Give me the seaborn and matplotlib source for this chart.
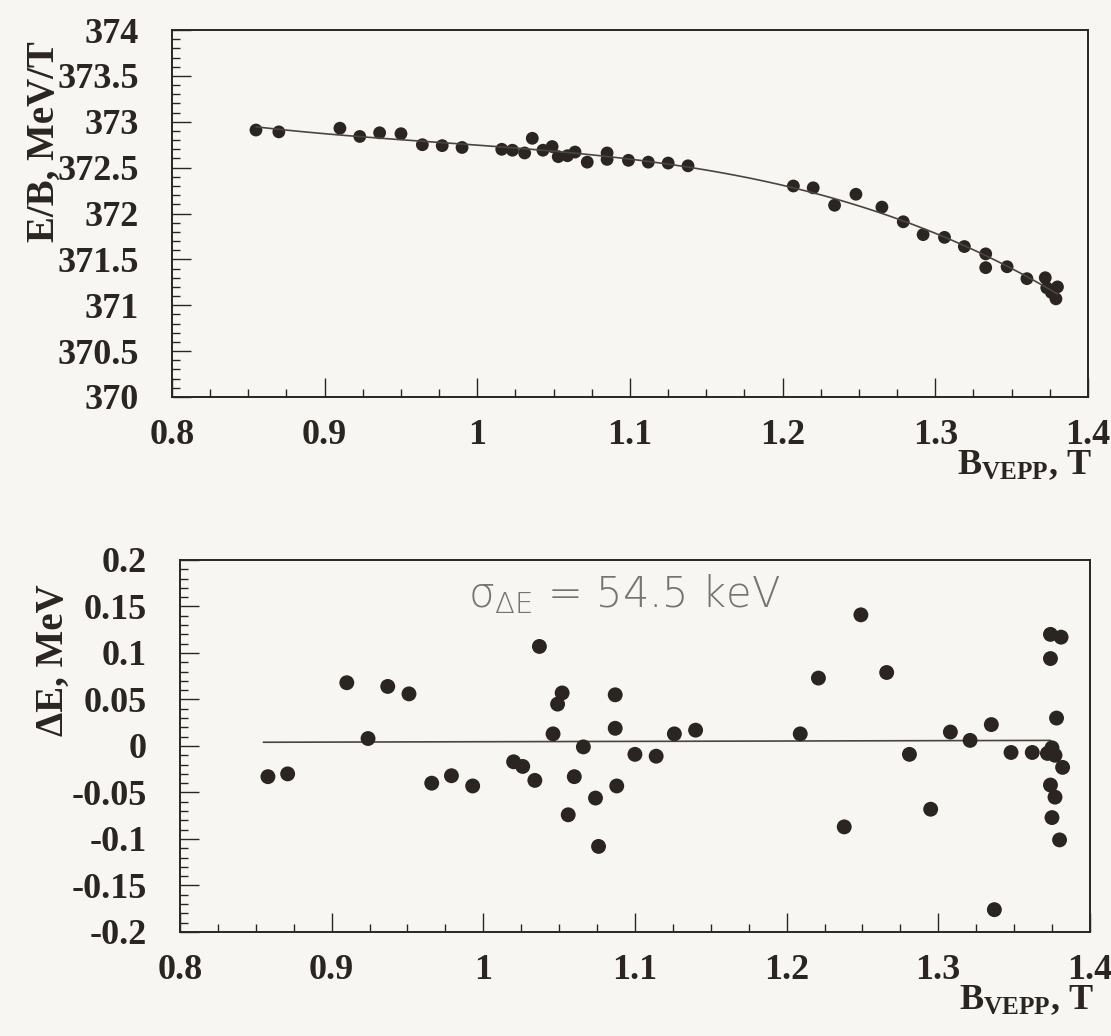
import matplotlib
matplotlib.use("Agg")
import matplotlib.pyplot as plt
from matplotlib.ticker import MultipleLocator, FuncFormatter
import pandas as pd
import seaborn as sns

# top panel: E/B versus B_VEPP
B_TOP = [0.855, 0.870, 0.910, 0.923, 0.936, 0.950, 0.964, 0.977, 0.990,
         1.016, 1.023, 1.031, 1.036, 1.043, 1.049, 1.053, 1.059, 1.064,
         1.072, 1.085, 1.085, 1.099, 1.112, 1.125, 1.138, 1.207, 1.220,
         1.234, 1.248, 1.265, 1.279, 1.292, 1.306, 1.319, 1.333, 1.333,
         1.347, 1.360, 1.372, 1.373, 1.376, 1.380, 1.379]
EB_TOP = [372.91, 372.89, 372.93, 372.84, 372.88, 372.87, 372.75, 372.74, 372.72,
          372.70, 372.69, 372.66, 372.82, 372.69, 372.73, 372.62, 372.63, 372.67,
          372.56, 372.66, 372.59, 372.58, 372.56, 372.55, 372.52, 372.30, 372.28,
          372.09, 372.21, 372.07, 371.91, 371.77, 371.74, 371.64, 371.56, 371.41,
          371.42, 371.29, 371.30, 371.19, 371.14, 371.20, 371.07]

# bottom panel: residuals dE versus B_VEPP
B_RES = [0.858, 0.871, 0.910, 0.924, 0.937, 0.951, 0.966, 0.979, 0.993,
         1.020, 1.026, 1.034, 1.037, 1.046, 1.049, 1.052, 1.056, 1.060,
         1.066, 1.074, 1.076, 1.087, 1.087, 1.088, 1.100, 1.114, 1.126,
         1.140, 1.209, 1.221, 1.238, 1.249, 1.266, 1.281, 1.295, 1.308,
         1.321, 1.335, 1.337, 1.348, 1.362, 1.372, 1.375, 1.374, 1.381,
         1.374, 1.378, 1.377, 1.382, 1.374, 1.377, 1.375, 1.380]
DE_RES = [-0.033, -0.030, 0.068, 0.008, 0.064, 0.056, -0.040, -0.032, -0.043,
          -0.017, -0.022, -0.037, 0.107, 0.013, 0.045, 0.057, -0.074, -0.033,
          -0.001, -0.056, -0.108, 0.055, 0.019, -0.043, -0.009, -0.011, 0.013,
          0.017, 0.013, 0.073, -0.087, 0.141, 0.079, -0.009, -0.068, 0.015,
          0.006, 0.023, -0.176, -0.007, -0.007, -0.008, -0.002, 0.120, 0.117,
          0.094, 0.030, -0.010, -0.023, -0.042, -0.055, -0.077, -0.101]

# flat fit through the residuals (end points)
FIT_B = [0.855, 1.374]
FIT_DE = [0.004, 0.006]

SIGMA_TEXT = r"$\sigma_{\Delta E}$ = 54.5 keV"

PAPER = "#f8f6f2"
INK = "#2a2521"


def fmt(v, pos):
    if abs(v) < 1e-9:
        return "0"
    return f"{v:g}"


def style_axes(ax):
    ax.set_facecolor(PAPER)
    for sp in ax.spines.values():
        sp.set_visible(True)
        sp.set_linewidth(1.4)
        sp.set_color(INK)
    ax.tick_params(which="both", direction="in", top=False, right=False,
                   color=INK, labelcolor=INK, labelsize=26, width=1.0)
    ax.tick_params(which="major", length=14)
    ax.tick_params(which="minor", length=6)
    ax.tick_params(axis="y", which="both", pad=24)
    ax.tick_params(axis="x", which="both", pad=16)
    ax.xaxis.set_major_locator(MultipleLocator(0.1))
    ax.xaxis.set_minor_locator(MultipleLocator(0.025))
    ax.xaxis.set_major_formatter(FuncFormatter(fmt))
    ax.yaxis.set_major_formatter(FuncFormatter(fmt))
    ax.set_xlim(0.8, 1.4)
    for lab in ax.get_xticklabels() + ax.get_yticklabels():
        lab.set_fontweight("bold")


def main():
    sns.set_theme(style="ticks")
    plt.rcParams["font.family"] = ["Liberation Serif", "DejaVu Serif"]
    plt.rcParams["font.weight"] = "bold"
    plt.rcParams["mathtext.default"] = "regular"

    fig = plt.figure(figsize=(11.11, 10.36), dpi=100, facecolor=PAPER)
    ax1 = fig.add_axes([0.1548, 0.6168, 0.8245, 0.3542])
    ax2 = fig.add_axes([0.1620, 0.1004, 0.8190, 0.3591])

    # top: data with a cubic fit drawn by seaborn
    top = pd.DataFrame({"B": B_TOP, "EB": EB_TOP})
    sns.regplot(data=top, x="B", y="EB", order=3, ci=None, truncate=True,
                color=INK, ax=ax1,
                scatter_kws=dict(s=85, alpha=1, edgecolor="none"),
                line_kws=dict(color="#4a4540", lw=1.2))
    ax1.set_ylim(370, 374)
    ax1.yaxis.set_major_locator(MultipleLocator(0.5))
    ax1.yaxis.set_minor_locator(MultipleLocator(0.1))
    style_axes(ax1)
    ax1.set_ylabel("E/B, MeV/T", fontsize=28, fontweight="bold", color=INK)
    ax1.yaxis.set_label_coords(-0.119, 0.695)
    ax1.set_xlabel("B$_{VEPP}$, T", fontsize=26, fontweight="bold",
                   color=INK, ha="right")
    ax1.xaxis.set_label_coords(1.004, -0.139)

    # bottom: residuals
    res = pd.DataFrame({"B": B_RES, "dE": DE_RES})
    fit = pd.DataFrame({"B": FIT_B, "dE": FIT_DE})
    sns.lineplot(data=fit, x="B", y="dE", color="#4a4540", lw=1.2, ax=ax2)
    sns.scatterplot(data=res, x="B", y="dE", s=115, color=INK,
                    edgecolor="none", ax=ax2, zorder=3)
    ax2.set_ylim(-0.2, 0.2)
    ax2.yaxis.set_major_locator(MultipleLocator(0.05))
    ax2.yaxis.set_minor_locator(MultipleLocator(0.01))
    style_axes(ax2)
    ax2.set_ylabel("ΔE, MeV", fontsize=28, fontweight="bold", color=INK)
    ax2.yaxis.set_label_coords(-0.119, 0.73)
    ax2.set_xlabel("B$_{VEPP}$, T", fontsize=26, fontweight="bold",
                   color=INK, ha="right")
    ax2.xaxis.set_label_coords(1.004, -0.137)

    ax2.text(0.99, 0.149, SIGMA_TEXT, fontsize=30, color="#777470",
             family=["DejaVu Sans"], fontweight="light", va="baseline")

    fig.savefig("out.png", dpi=100, facecolor=PAPER)


if __name__ == "__main__":
    main()
